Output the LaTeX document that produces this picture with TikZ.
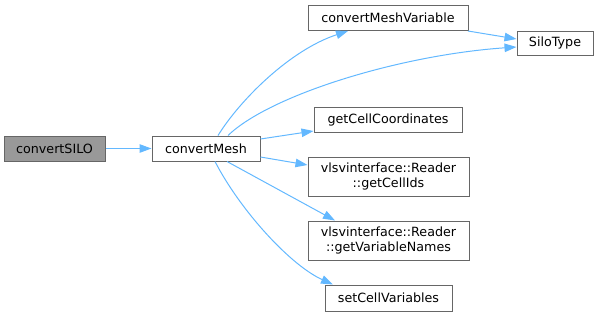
\documentclass[tikz,border=0pt]{standalone}
\usepackage{fontspec}
\setmainfont{DejaVu Sans}
\usetikzlibrary{arrows.meta}
\definecolor{edgeblue}{HTML}{63B8FF}
\definecolor{nodeborder}{HTML}{666666}
\definecolor{rootfill}{HTML}{999999}
\tikzset{
  fn/.style={draw=nodeborder, line width=1pt, fill=white, inner sep=0pt, align=center,
    font=\fontsize{12.7}{15}\selectfont, text=black},
  root/.style={fn, fill=rootfill},
  call/.style={draw=edgeblue, line width=1pt, -{Triangle[length=12pt,width=8.5pt]}}
}
\begin{document}
\begin{tikzpicture}[x=1pt,y=-1pt]
\useasboundingbox (0,0) rectangle (599,316);
\node[root, minimum width=101pt, minimum height=25pt] (silo) at (54.5,148.5) {convertSILO};
\node[fn, minimum width=108pt, minimum height=25pt] (cm) at (206,148.5) {convertMesh};
\node[fn, minimum width=160pt, minimum height=25pt] (cmv) at (388,18) {convertMeshVariable};
\node[fn, minimum width=76pt, minimum height=24pt] (st) at (555,43) {SiloType};
\node[fn, minimum width=148pt, minimum height=25pt] (gcc) at (388,119.5) {getCellCoordinates};
\node[fn, minimum width=161pt, minimum height=39pt] (gci) at (388.5,176.5) {vlsvinterface::Reader\\::getCellIds};
\node[fn, minimum width=161pt, minimum height=39pt] (gvn) at (388.5,240.5) {vlsvinterface::Reader\\::getVariableNames};
\node[fn, minimum width=127pt, minimum height=26pt] (scv) at (388.5,298) {setCellVariables};

\draw[call] (silo.east) -- (cm.west);
\draw[call] ([xshift=12pt]cm.north) .. controls (240,100) and (290,50) .. ([xshift=-40pt]cmv.south);
\draw[call] ([xshift=22pt]cm.north) .. controls (270,95) and (400,55) .. ([yshift=-4pt]st.west);
\draw[call] ([yshift=9.5pt]cm.east) -- ([yshift=-11.5pt]gcc.west);
\draw[call] ([yshift=-8.5pt]cm.east) -- ([yshift=11.5pt]gci.west);
\draw[call] ([xshift=21pt]cm.south) -- ([xshift=-53.5pt]gvn.north);
\draw[call] ([xshift=9pt]cm.south) .. controls (240,210) and (290,265) .. ([xshift=-55.5pt]scv.north);
\draw[call] ([xshift=80pt]cmv.south) -- ([yshift=4pt]st.west);
\end{tikzpicture}
\end{document}
